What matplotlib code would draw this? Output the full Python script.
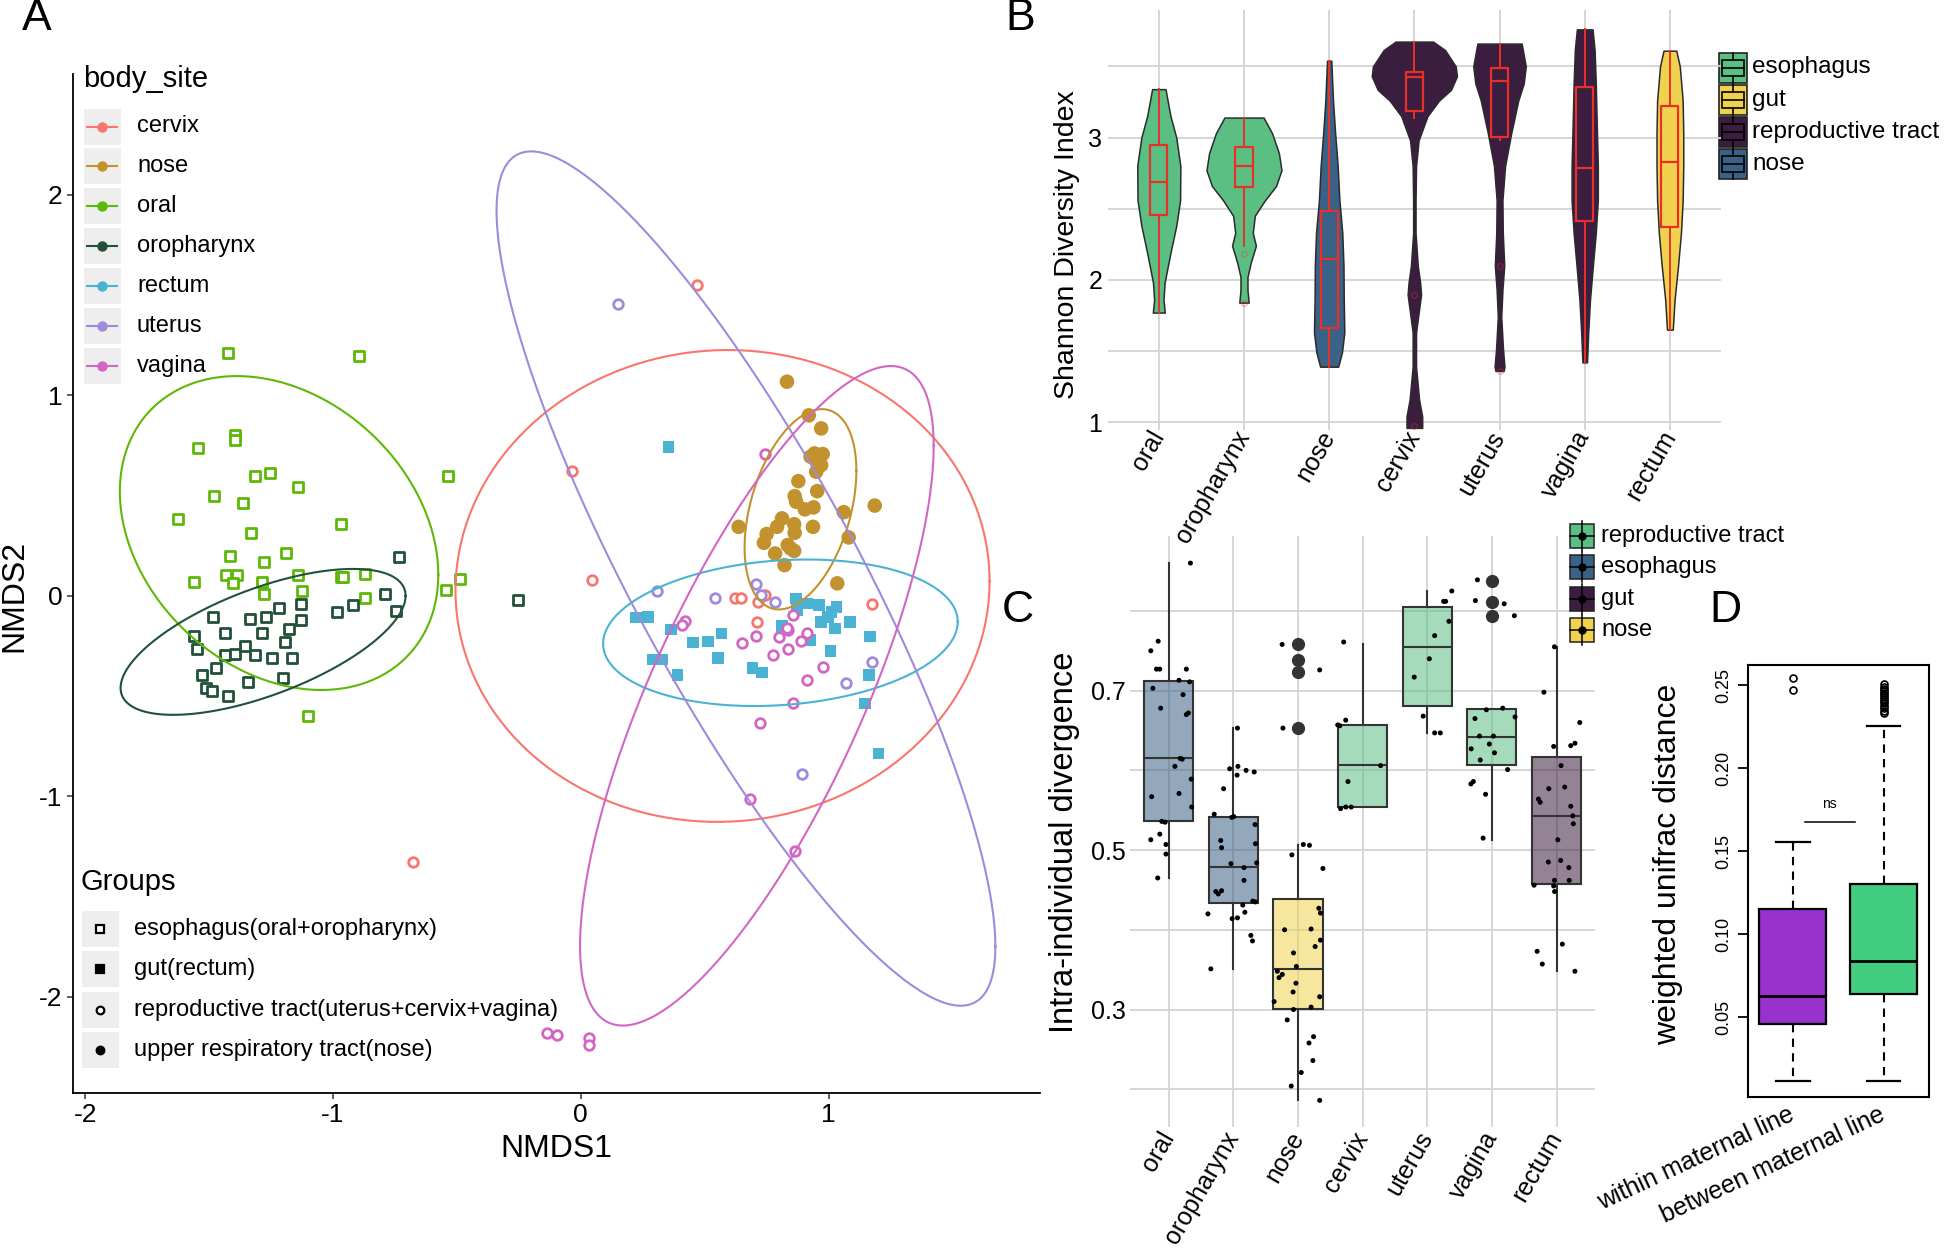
import numpy as np
import matplotlib
matplotlib.use("Agg")
import matplotlib.pyplot as plt
from matplotlib.patches import Rectangle
from matplotlib.lines import Line2D

plt.rcParams['font.family'] = ['Liberation Sans', 'DejaVu Sans']
plt.rcParams['axes.unicode_minus'] = False

W, H = 1946, 1249

# ---------------- panel A : NMDS ----------------
site_names = ['cervix', 'nose', 'oral', 'oropharynx', 'rectum', 'uterus', 'vagina']
site_colors = ['#F8766D', '#C3922E', '#5DB808', '#22513A', '#4AB3D3', '#A08ADB', '#D266C2']
site_marker = ['o', 'o', 's', 's', 's', 'o', 'o']
site_filled = [False, True, False, False, True, False, False]

cervix_x = [0.47, -0.035, 0.045, 0.622, 0.647, 0.716, 0.711, 1.174, 0.745, -0.676]
cervix_y = [1.548, 0.622, 0.081, -0.01, -0.01, -0.03, -0.13, -0.041, 0.003, -1.326]
nose_x = [0.832, 0.92, 0.97, 0.943, 0.976, 0.955, 0.97, 0.95, 0.927, 0.878, 0.954, 0.863, 0.869,
          0.904, 0.939, 1.186, 1.061, 0.812, 0.792, 0.861, 0.863, 0.937, 0.637, 0.75, 0.739, 1.081,
          0.835, 0.861, 0.847, 0.784, 0.822, 1.035]
nose_y = [1.068, 0.90, 0.835, 0.71, 0.707, 0.677, 0.652, 0.619, 0.694, 0.572, 0.522, 0.497, 0.469,
          0.431, 0.441, 0.45, 0.417, 0.386, 0.344, 0.357, 0.314, 0.344, 0.344, 0.308, 0.264, 0.291,
          0.253, 0.224, 0.236, 0.211, 0.153, 0.062]
oral_x = [-1.424, -0.896, -1.397, -1.397, -1.543, -1.315, -1.254, -1.142, -1.482, -1.363, -0.536,
          -1.624, -0.969, -1.329, -1.415, -1.279, -1.189, -1.561, -1.433, -1.388, -1.403, -1.286,
          -1.279, -1.142, -1.126, -0.969, -0.96, -0.869, -0.869, -0.545, -0.489, -1.10]
oral_y = [1.21, 1.198, 0.80, 0.776, 0.736, 0.598, 0.612, 0.542, 0.496, 0.463, 0.596, 0.383, 0.356,
          0.312, 0.20, 0.17, 0.213, 0.07, 0.105, 0.105, 0.066, 0.07, 0.01, 0.105, 0.023, 0.093,
          0.093, 0.11, -0.012, 0.031, 0.085, -0.60]
oroph_x = [-0.734, -0.79, -0.745, -0.919, -0.984, -1.13, -1.218, -1.13, -1.27, -1.333, -1.484,
           -1.178, -1.435, -1.288, -1.561, -0.255, -1.549, -1.192, -1.435, -1.395, -1.354, -1.314,
           -1.246, -1.165, -1.473, -1.527, -1.511, -1.489, -1.424, -1.341, -1.2]
oroph_y = [0.194, 0.008, -0.077, -0.048, -0.083, -0.04, -0.06, -0.12, -0.108, -0.114, -0.108,
           -0.165, -0.186, -0.188, -0.203, -0.02, -0.268, -0.231, -0.293, -0.289, -0.252, -0.293,
           -0.309, -0.309, -0.36, -0.396, -0.46, -0.474, -0.499, -0.429, -0.412]
rectum_x = [0.354, 0.223, 0.27, 0.365, 0.453, 0.514, 0.568, 0.29, 0.33, 0.391, 0.554, 0.693, 0.73,
            0.812, 0.869, 0.912, 0.873, 0.961, 1.032, 1.012, 0.997, 0.97, 1.027, 1.086, 0.924,
            1.007, 1.166, 1.163, 1.148, 1.202]
rectum_y = [0.743, -0.108, -0.105, -0.168, -0.234, -0.229, -0.188, -0.318, -0.318, -0.396, -0.309,
            -0.359, -0.383, -0.151, -0.013, -0.038, -0.072, -0.046, -0.055, -0.08, -0.105, -0.13,
            -0.163, -0.13, -0.221, -0.274, -0.204, -0.396, -0.537, -0.786]
uterus_x = [0.15, 0.307, 0.542, 0.707, 0.784, 0.727, 1.174, 1.07, 0.893]
uterus_y = [1.456, 0.023, -0.01, 0.057, -0.03, 0.003, -0.33, -0.437, -0.887]
vagina_x = [0.745, 0.422, 0.408, 0.65, 0.708, 0.798, 0.835, 0.855, 0.912, 0.889, 0.838, 0.775,
            0.977, 0.912, 0.858, 0.724, 0.865, 0.684, -0.135, -0.097, 0.032, 0.032, 0.832]
vagina_y = [0.705, -0.125, -0.146, -0.238, -0.201, -0.205, -0.171, -0.097, -0.188, -0.224, -0.264,
            -0.293, -0.354, -0.42, -0.534, -0.634, -1.272, -1.016, -2.18, -2.19, -2.206, -2.243,
            -0.16]
site_x = [cervix_x, nose_x, oral_x, oroph_x, rectum_x, uterus_x, vagina_x]
site_y = [cervix_y, nose_y, oral_y, oroph_y, rectum_y, uterus_y, vagina_y]

# ellipses: centre, half extent in x / y, x-position of the top point (as cos)
ell_cx = [0.572, 0.8865, -1.2175, -1.282, 0.8055, 0.6665, 0.7105]
ell_cy = [0.049, 0.4315, 0.313, -0.23, -0.1845, 0.086, -0.499]
ell_wx = [1.0775, 0.2255, 0.6425, 0.575, 0.7155, 1.0065, 0.7135]
ell_wy = [1.177, 0.4995, 0.783, 0.364, 0.3655, 2.131, 1.645]
ell_tilt = [0.02, 0.384, -0.265, 0.631, 0.149, -0.861, 0.758]

group_names = ['esophagus(oral+oropharynx)', 'gut(rectum)',
               'reproductive tract(uterus+cervix+vagina)', 'upper respiratory tract(nose)']

# ---------------- panel B : Shannon violins ----------------
b_cats = ['oral', 'oropharynx', 'nose', 'cervix', 'uterus', 'vagina', 'rectum']
b_group = ['esophagus', 'esophagus', 'nose', 'reproductive tract', 'reproductive tract',
           'reproductive tract', 'gut']
b_legend = ['esophagus', 'gut', 'reproductive tract', 'nose']
b_colors = {'esophagus': '#5BBF84', 'gut': '#F0D24F', 'reproductive tract': '#3B1E3F', 'nose': '#3A6186'}
violin_y = [
    [1.77, 1.86, 1.98, 2.19, 2.38, 2.56, 2.80, 3.00, 3.15, 3.26, 3.34],
    [1.84, 1.93, 2.02, 2.12, 2.24, 2.33, 2.45, 2.56, 2.66, 2.77, 2.89, 3.03, 3.14],
    [1.39, 1.49, 1.63, 1.86, 2.10, 2.33, 2.56, 2.80, 3.03, 3.26, 3.54],
    [0.96, 1.04, 1.16, 1.39, 1.63, 1.79, 1.896, 1.98, 2.10, 2.33, 2.56, 2.80, 2.98, 3.15, 3.26,
     3.335, 3.43, 3.50, 3.615, 3.674],
    [1.36, 1.39, 1.51, 1.74, 1.93, 2.10, 2.33, 2.56, 2.80, 3.03, 3.26, 3.38, 3.50, 3.66],
    [1.42, 1.63, 1.86, 2.10, 2.33, 2.56, 2.80, 3.03, 3.38, 3.615, 3.76],
    [1.65, 1.86, 2.10, 2.33, 2.56, 2.80, 3.03, 3.26, 3.50, 3.61],
]
violin_hw = [
    [0.07, 0.055, 0.068, 0.137, 0.205, 0.25, 0.253, 0.205, 0.137, 0.103, 0.079],
    [0.055, 0.041, 0.041, 0.079, 0.14, 0.103, 0.127, 0.247, 0.377, 0.44, 0.41, 0.33, 0.23],
    [0.106, 0.15, 0.178, 0.171, 0.168, 0.154, 0.12, 0.10, 0.07, 0.045, 0.025],
    [0.092, 0.092, 0.055, 0.02, 0.02, 0.055, 0.079, 0.068, 0.04, 0.014, 0.014, 0.02, 0.05, 0.154,
     0.29, 0.43, 0.50, 0.486, 0.36, 0.22],
    [0.048, 0.058, 0.041, 0.02, 0.034, 0.055, 0.038, 0.034, 0.065, 0.137, 0.22, 0.284, 0.308, 0.26],
    [0.027, 0.041, 0.062, 0.096, 0.13, 0.154, 0.154, 0.144, 0.13, 0.116, 0.092],
    [0.034, 0.055, 0.096, 0.13, 0.15, 0.157, 0.157, 0.15, 0.116, 0.075],
]
b_q1 = [2.455, 2.654, 1.662, 3.183, 3.007, 2.41, 2.369]
b_med = [2.689, 2.797, 2.147, 3.428, 3.398, 2.789, 2.825]
b_q3 = [2.946, 2.93, 2.481, 3.463, 3.487, 3.353, 3.222]
b_wlo = [1.768, 2.24, 1.386, 3.136, 2.984, 1.42, 1.65]
b_whi = [3.34, 3.14, 3.54, 3.674, 3.657, 3.76, 3.61]
b_fliers = [[], [2.18, 1.84], [], [1.896, 0.97], [2.095, 1.358], [], []]

# ---------------- panel C : intra-individual divergence ----------------
c_cats = b_cats
c_group = b_group
c_legend = ['reproductive tract', 'esophagus', 'gut', 'nose']
c_colors = {'reproductive tract': '#5BBF84', 'esophagus': '#3A6186', 'gut': '#3B1E3F', 'nose': '#F0D24F'}
c_q1 = [0.5367, 0.433, 0.301, 0.554, 0.681, 0.607, 0.458]
c_med = [0.6149, 0.479, 0.351, 0.607, 0.755, 0.642, 0.543]
c_q3 = [0.7117, 0.542, 0.439, 0.657, 0.805, 0.677, 0.617]
c_wlo = [0.465, 0.351, 0.186, 0.554, 0.647, 0.513, 0.348]
c_whi = [0.860, 0.653, 0.506, 0.759, 0.825, 0.677, 0.755]
c_fliers = [[], [], [0.758, 0.739, 0.724, 0.653], [], [], [0.838, 0.811, 0.794], []]
c_pts_x = [1.335, 0.722, 0.836, 0.81, 0.861, 1.272, 0.754, 1.158, 1.322, 1.221, 0.874, 1.272, 1.303,
           1.095, 1.177, 1.208, 1.347, 0.735, 1.158, 1.354, 0.893, 0.943, 0.722, 0.861, 0.956, 0.956,
           0.829,
           2.063, 1.943, 2.07, 2.196, 2.322, 2.057, 1.848, 1.703, 1.975, 2.006, 2.335, 1.804, 1.817,
           2.341, 1.962, 2.36, 2.164, 1.728, 1.766, 1.817, 2.164, 2.30, 2.34, 2.145, 1.606, 1.981,
           2.063, 2.177, 2.27, 2.295, 1.651,
           2.754, 3.335, 2.766, 3.082, 3.177, 2.905, 3.385, 3.322, 3.347, 2.792, 3.202, 3.347, 2.93,
           3.265, 2.975, 2.68, 2.706, 2.756, 2.968, 2.924, 3.335, 2.63, 3.202, 2.93, 2.833, 3.24,
           3.17, 3.23, 3.05, 2.895, 3.335,
           3.706, 3.738, 3.614, 3.646, 4.278, 3.773, 3.659, 3.74, 3.823,
           5.379, 5.253, 5.284, 5.335, 5.114, 5.032, 4.798, 4.937, 5.114, 5.202,
           5.776, 5.744, 6.19, 6.348, 5.915, 6.168, 6.358, 5.738, 5.808, 6.023, 5.96, 6.04, 5.68,
           5.82, 6.243, 5.713, 5.675, 5.902, 5.864,
           6.968, 6.805, 7.36, 7.286, 7.22, 6.956, 7.07, 6.88, 7.126, 6.72, 6.747, 7.22, 7.253, 7.26,
           7.02, 6.653, 6.956, 6.968, 6.874, 7.063, 7.19, 7.196, 6.97, 6.70, 7.09, 6.78, 7.285]
c_pts_y = [0.860, 0.750, 0.762, 0.727, 0.727, 0.727, 0.703, 0.713, 0.711, 0.695, 0.678, 0.670, 0.672,
           0.605, 0.615, 0.614, 0.589, 0.567, 0.571, 0.554, 0.536, 0.535, 0.513, 0.520, 0.507, 0.495,
           0.465,
           0.653, 0.602, 0.605, 0.600, 0.598, 0.594, 0.577, 0.545, 0.541, 0.542, 0.532, 0.512, 0.503,
           0.508, 0.483, 0.484, 0.478, 0.448, 0.445, 0.449, 0.462, 0.436, 0.435, 0.431, 0.42, 0.414,
           0.415, 0.422, 0.393, 0.386, 0.351,
           0.758, 0.726, 0.653, 0.507, 0.506, 0.494, 0.477, 0.427, 0.421, 0.40, 0.401, 0.387, 0.371,
           0.379, 0.354, 0.348, 0.340, 0.344, 0.333, 0.322, 0.316, 0.31, 0.303, 0.30, 0.287, 0.266,
           0.258, 0.236, 0.221, 0.204, 0.186,
           0.761, 0.663, 0.657, 0.656, 0.606, 0.586, 0.552, 0.554, 0.554,
           0.825, 0.812, 0.812, 0.787, 0.769, 0.74, 0.717, 0.668, 0.647, 0.647,
           0.839, 0.813, 0.809, 0.794, 0.676, 0.678, 0.667, 0.665, 0.643, 0.643, 0.633, 0.622, 0.627,
           0.613, 0.601, 0.586, 0.583, 0.57, 0.515,
           0.755, 0.698, 0.66, 0.634, 0.631, 0.63, 0.606, 0.577, 0.579, 0.564, 0.56, 0.555, 0.543,
           0.533, 0.513, 0.456, 0.455, 0.462, 0.485, 0.487, 0.478, 0.462, 0.448, 0.373, 0.382, 0.357,
           0.348]

# ---------------- panel D : weighted unifrac ----------------
d_cats = ['within maternal line', 'between maternal line']
d_colors = ['#9932CC', '#43CD80']
d_q1 = [0.0455, 0.064]
d_med = [0.0627, 0.0836]
d_q3 = [0.1154, 0.1303]
d_wlo = [0.0116, 0.0116]
d_whi = [0.1557, 0.2254]
d_fliers = [[0.2545, 0.2468],
            [0.2505, 0.249, 0.2478, 0.2465, 0.2452, 0.244, 0.2428, 0.2415, 0.2402, 0.239, 0.2375,
             0.236, 0.2345, 0.233]]


def fx(x):
    return x / W


def fy(y):
    return 1 - y / H


fig = plt.figure(figsize=(W / 100, H / 100), dpi=100)


def fbox(x0, y0, x1, y1, **kw):
    fig.add_artist(Rectangle((fx(x0), fy(y1)), (x1 - x0) / W, (y1 - y0) / H,
                             transform=fig.transFigure, **kw))


def fline(xs, ys, **kw):
    fig.add_artist(Line2D([fx(v) for v in xs], [fy(v) for v in ys], transform=fig.transFigure, **kw))


# ======== A ========
axA = fig.add_axes([fx(73), fy(1092.5), (1040 - 73) / W, (1092.5 - 73.8) / H])
for i, name in enumerate(site_names):
    col = site_colors[i]
    if site_filled[i]:
        s = 110 if site_marker[i] == 'o' else 70
        axA.scatter(site_x[i], site_y[i], marker=site_marker[i], s=s, c=col, edgecolors='none', zorder=3)
    else:
        axA.scatter(site_x[i], site_y[i], marker=site_marker[i], s=48, facecolors='white',
                    edgecolors=col, linewidths=2.0, zorder=3)
t = np.linspace(0, 2 * np.pi, 300)
for i in range(len(site_names)):
    phi = np.arccos(ell_tilt[i])
    axA.plot(ell_cx[i] + ell_wx[i] * np.cos(t), ell_cy[i] + ell_wy[i] * np.cos(t - phi),
             color=site_colors[i], lw=1.5, zorder=4)
axA.set_xlim(-2.049, 1.853)
axA.set_ylim(-2.478, 2.604)
axA.set_xticks([-2, -1, 0, 1])
axA.set_yticks([-2, -1, 0, 1, 2])
for side in ['top', 'right']:
    axA.spines[side].set_visible(False)
for side in ['left', 'bottom']:
    axA.spines[side].set_linewidth(1.3)
axA.tick_params(labelsize=19, length=4.5, width=1.1, color='#333333', pad=3)
fig.text(fx(556), fy(1149), 'NMDS1', fontsize=23, ha='center', va='center')
fig.text(fx(14), fy(596), 'NMDS2', fontsize=23, ha='center', va='center', rotation=90)

# body_site legend
fig.text(fx(83), fy(79), 'body_site', fontsize=21, ha='left', va='center')
for i, name in enumerate(site_names):
    yc = 126.5 + i * 39.9
    fbox(84, yc - 18, 120.5, yc + 18, facecolor='#EEEEEE', edgecolor='none')
    fline([87, 117], [yc, yc], color=site_colors[i], lw=1.5)
    fline([102], [yc], color=site_colors[i], marker='o', ms=6.5, lw=0)
    fig.text(fx(137), fy(yc), name, fontsize=17, ha='left', va='center')

# Groups legend
fig.text(fx(80), fy(882), 'Groups', fontsize=21, ha='left', va='center')
g_mark = ['s', 's', 'o', 'o']
g_fill = [False, True, False, True]
for i, name in enumerate(group_names):
    yc = 929 + i * 40.3
    fbox(81.7, yc - 18, 118.5, yc + 18, facecolor='#EEEEEE', edgecolor='none')
    fline([100], [yc], marker=g_mark[i], ms=5.5, lw=0, mec='black', mew=1.6,
          mfc='black' if g_fill[i] else 'white')
    fig.text(fx(134), fy(yc), name, fontsize=17, ha='left', va='center')

# ======== B ========
axB = fig.add_axes([fx(1107.7), fy(430), (1721 - 1107.7) / W, (430 - 10) / H])
axB.set_zorder(2)
axB.patch.set_visible(False)
pos = np.arange(1, len(b_cats) + 1)
for i in range(len(b_cats)):
    vy = np.array(violin_y[i])
    vw = np.array(violin_hw[i])
    axB.fill_betweenx(vy, pos[i] - vw, pos[i] + vw, facecolor=b_colors[b_group[i]],
                      edgecolor='#2b2b2b', lw=1.1, zorder=2)
b_stats = [dict(med=b_med[i], q1=b_q1[i], q3=b_q3[i], whislo=b_wlo[i], whishi=b_whi[i],
                fliers=b_fliers[i]) for i in range(len(b_cats))]
axB.bxp(b_stats, positions=pos, widths=0.2, showcaps=False, manage_ticks=False,
        boxprops=dict(color='#E8302A', lw=1.6), medianprops=dict(color='#E8302A', lw=1.6),
        whiskerprops=dict(color='#E8302A', lw=1.4),
        flierprops=dict(marker='o', ms=4, mfc='none', mec='#E8302A', alpha=0.35), zorder=3)
axB.set_xlim(0.4, 7.6)
axB.set_ylim(0.945, 3.896)
axB.set_xticks(pos)
axB.set_xticklabels(b_cats, rotation=60, ha='right', va='center', rotation_mode='anchor', fontsize=18)
axB.set_yticks([1, 2, 3])
axB.set_yticks([1.5, 2.5, 3.5], minor=True)
axB.grid(True, which='both', color='#D3D3D3', lw=1.3)
axB.set_axisbelow(True)
for s in axB.spines.values():
    s.set_visible(False)
axB.tick_params(which='both', length=0, labelsize=18, pad=4)
axB.tick_params(axis='x', pad=2)
fig.text(fx(1067), fy(245), 'Shannon Diversity Index', fontsize=20.5, rotation=90,
         ha='center', va='center')

for i, name in enumerate(b_legend):
    yc = 67.5 + i * 32.2
    fbox(1718.5, yc - 15, 1747, yc + 15, facecolor=b_colors[name], edgecolor='#222222', lw=1.2)
    fbox(1721.5, yc - 8, 1744, yc + 8, facecolor='none', edgecolor='black', lw=1.2)
    fline([1721.5, 1744], [yc, yc], color='black', lw=1.2)
    fline([1732.7, 1732.7], [yc - 15, yc - 8], color='black', lw=1.2)
    fline([1732.7, 1732.7], [yc + 8, yc + 15], color='black', lw=1.2)
    fig.text(fx(1752), fy(yc), name, fontsize=17.5, ha='left', va='center')

# ======== C ========
axC = fig.add_axes([fx(1130), fy(1126.7), (1595.3 - 1130) / W, (1126.7 - 536) / H])
axC.patch.set_visible(False)
c_stats = [dict(med=c_med[i], q1=c_q1[i], q3=c_q3[i], whislo=c_wlo[i], whishi=c_whi[i],
                fliers=c_fliers[i]) for i in range(len(c_cats))]
bp = axC.bxp(c_stats, positions=pos, widths=0.76, showcaps=False, patch_artist=True,
             manage_ticks=False,
             boxprops=dict(edgecolor='#333333', lw=1.5), medianprops=dict(color='#333333', lw=1.5),
             whiskerprops=dict(color='#333333', lw=1.5),
             flierprops=dict(marker='o', ms=8.5, mfc='#333333', mec='#333333'), zorder=2)
for i, patch in enumerate(bp['boxes']):
    patch.set_facecolor(matplotlib.colors.to_rgba(c_colors[c_group[i]], 0.55))
axC.scatter(c_pts_x, c_pts_y, s=13, c='black', edgecolors='none', zorder=4)
axC.set_xlim(0.4, 7.6)
axC.set_ylim(0.153, 0.894)
axC.set_xticks(pos)
axC.set_xticklabels(c_cats, rotation=60, ha='right', va='center', rotation_mode='anchor', fontsize=18)
axC.set_yticks([0.3, 0.5, 0.7])
axC.set_yticklabels(['0.3', '0.5', '0.7'])
axC.set_yticks([0.2, 0.4, 0.6, 0.8], minor=True)
axC.grid(True, which='both', color='#D3D3D3', lw=1.3)
axC.set_axisbelow(True)
for s in axC.spines.values():
    s.set_visible(False)
axC.tick_params(which='both', length=0, labelsize=18, pad=3)
axC.tick_params(axis='x', pad=5)
fig.text(fx(1064), fy(842), 'Intra-individual divergence', fontsize=23.5, rotation=90,
         ha='center', va='center')

for i, name in enumerate(c_legend):
    yc = 535.6 + i * 31.5
    fbox(1569.6, yc - 12, 1594, yc + 12, facecolor=c_colors[name], edgecolor='#222222', lw=1.1)
    fline([1569.6, 1594], [yc, yc], color='black', lw=1.1)
    fline([1581.8, 1581.8], [yc - 15, yc + 15], color='black', lw=1.1)
    fline([1581.8], [yc], marker='o', ms=5, color='black', lw=0)
    fig.text(fx(1601), fy(yc), name, fontsize=17, ha='left', va='center')

# ======== D ========
axD = fig.add_axes([fx(1747.5), fy(1097), (1929 - 1747.5) / W, (1097 - 664.6) / H])
d_stats = [dict(med=d_med[i], q1=d_q1[i], q3=d_q3[i], whislo=d_wlo[i], whishi=d_whi[i],
                fliers=d_fliers[i]) for i in range(2)]
bpd = axD.bxp(d_stats, positions=[1, 2], widths=0.74, patch_artist=True, manage_ticks=False,
              boxprops=dict(edgecolor='black', lw=1.6), medianprops=dict(color='black', lw=2),
              whiskerprops=dict(color='black', lw=1.5, linestyle=(0, (4, 3))),
              capprops=dict(color='black', lw=1.6),
              flierprops=dict(marker='o', ms=5, mfc='none', mec='black', mew=1.2))
for i, patch in enumerate(bpd['boxes']):
    patch.set_facecolor(d_colors[i])
axD.plot([1.13, 1.69], [0.1674, 0.1674], color='black', lw=1.1)
axD.text(1.40, 0.1785, 'ns', fontsize=10, ha='center', va='center')
axD.set_xlim(0.5, 2.5)
axD.set_ylim(0.0018, 0.2624)
axD.set_yticks([0.05, 0.10, 0.15, 0.20, 0.25])
axD.set_yticklabels(['0.05', '0.10', '0.15', '0.20', '0.25'], rotation=90, va='center')
axD.set_xticks([1, 2])
axD.set_xticklabels(d_cats, rotation=25, ha='right', va='center', rotation_mode='anchor', fontsize=18)
axD.tick_params(axis='y', length=7, width=1.3, labelsize=13, pad=4)
axD.tick_params(axis='x', length=0, pad=12)
for s in axD.spines.values():
    s.set_linewidth(1.5)
fig.text(fx(1668), fy(864), 'weighted unifrac distance', fontsize=23, rotation=90,
         ha='center', va='center')

# panel letters
for letter, x, y in [('A', 37, 19), ('B', 1020, 19), ('C', 1018, 610), ('D', 1725, 610)]:
    fig.text(fx(x), fy(y), letter, fontsize=32, ha='center', va='center')

fig.savefig('out.png', dpi=100)
